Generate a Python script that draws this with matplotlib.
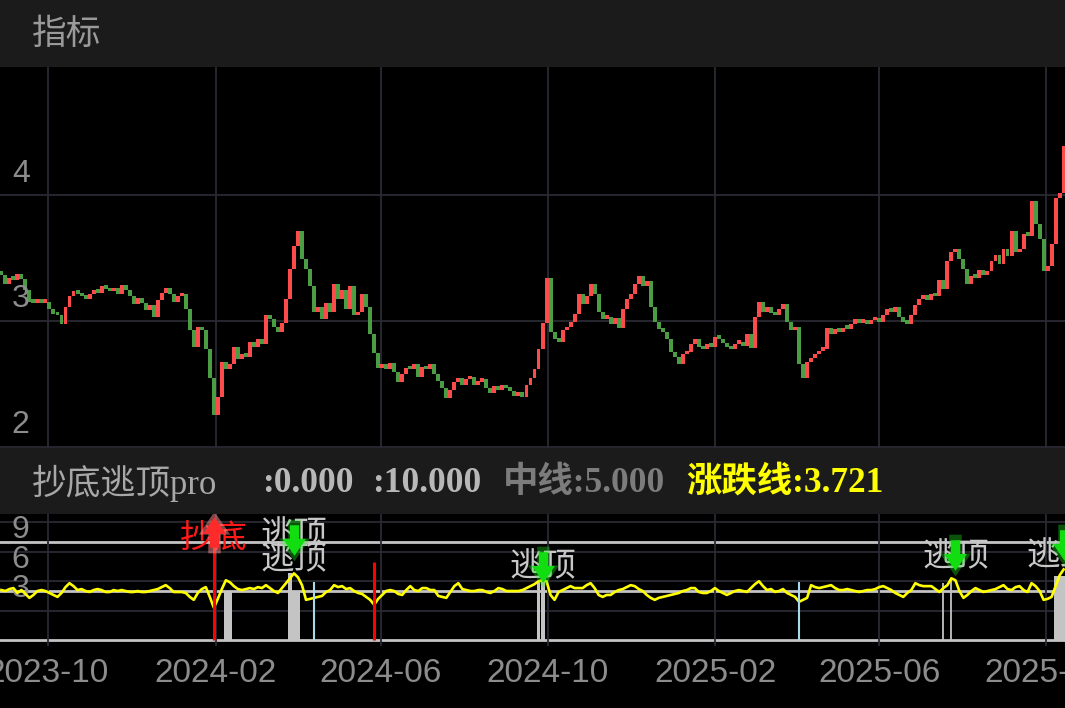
import numpy as np
import pandas as pd
import matplotlib
matplotlib.use('Agg')
import matplotlib.pyplot as plt
import matplotlib.dates as mdates
from matplotlib.patches import Rectangle
from matplotlib.path import Path

close = [
    3.37, 3.30, 3.35, 3.33, 3.38, 3.34, 3.25, 3.16, 3.15, 3.17,
    3.15, 3.16, 3.10, 3.06, 3.05, 2.98, 3.12, 3.20, 3.24, 3.22,
    3.20, 3.18, 3.22, 3.25, 3.23, 3.28, 3.26, 3.24, 3.27, 3.22,
    3.29, 3.25, 3.20, 3.14, 3.19, 3.15, 3.09, 3.13, 3.04, 3.17,
    3.23, 3.27, 3.22, 3.16, 3.20, 3.22, 3.10, 2.93, 2.80, 2.96,
    2.93, 2.78, 2.55, 2.26, 2.40, 2.68, 2.62, 2.66, 2.80, 2.70,
    2.74, 2.72, 2.84, 2.80, 2.86, 2.82, 3.05, 3.02, 2.96, 2.92,
    2.99, 3.18, 3.42, 3.60, 3.72, 3.50, 3.42, 3.28, 3.08, 3.12,
    3.02, 3.15, 3.08, 3.30, 3.18, 3.25, 3.10, 3.28, 3.05, 3.08,
    3.22, 3.12, 2.90, 2.75, 2.63, 2.66, 2.62, 2.67, 2.60, 2.52,
    2.58, 2.63, 2.62, 2.66, 2.56, 2.64, 2.62, 2.66, 2.58, 2.53,
    2.47, 2.39, 2.46, 2.52, 2.55, 2.50, 2.54, 2.56, 2.50, 2.52,
    2.54, 2.47, 2.43, 2.49, 2.46, 2.50, 2.47, 2.45, 2.41, 2.44,
    2.40, 2.50, 2.55, 2.62, 2.78, 2.99, 3.35, 2.92, 2.86, 2.84,
    2.93, 2.96, 3.00, 3.06, 3.22, 3.14, 3.20, 3.30, 3.22, 3.08,
    3.02, 3.04, 2.98, 3.03, 2.95, 3.10, 3.18, 3.22, 3.30, 3.36,
    3.28, 3.32, 3.12, 3.00, 2.94, 2.92, 2.86, 2.76, 2.72, 2.66,
    2.74, 2.76, 2.82, 2.86, 2.80, 2.78, 2.82, 2.80, 2.88, 2.86,
    2.83, 2.80, 2.78, 2.82, 2.84, 2.81, 2.90, 2.79, 3.04, 3.16,
    3.08, 3.12, 3.07, 3.05, 3.10, 3.14, 3.00, 2.93, 2.96, 2.66,
    2.55, 2.68, 2.71, 2.74, 2.77, 2.78, 2.95, 2.90, 2.94, 2.92,
    2.95, 2.94, 2.98, 3.02, 2.99, 3.00, 2.98, 3.01, 3.03, 3.00,
    3.05, 3.10, 3.08, 3.12, 3.04, 3.00, 2.98, 3.05, 3.13, 3.18,
    3.21, 3.17, 3.22, 3.20, 3.33, 3.26, 3.48, 3.55, 3.58, 3.50,
    3.42, 3.30, 3.36, 3.35, 3.41, 3.37, 3.40, 3.48, 3.53, 3.46,
    3.58, 3.52, 3.72, 3.55, 3.58, 3.70, 3.68, 3.96, 3.78, 3.66,
    3.40, 3.44, 3.62, 3.98, 4.02, 4.40,
]
first_open = 3.40

# yellow 涨跌线 in the lower pane
zdx = [
    5.1, 5.0, 5.2, 5.3, 4.8, 5.1, 4.7, 4.3, 4.6, 5.0,
    5.1, 5.0, 4.8, 4.6, 4.4, 4.8, 5.4, 5.8, 5.5, 5.1,
    5.2, 5.0, 4.9, 5.1, 5.2, 5.1, 4.9, 4.9, 5.1, 5.0,
    5.1, 5.0, 4.9, 4.9, 5.0, 4.9, 4.9, 5.0, 5.1, 5.2,
    5.4, 5.6, 5.3, 4.9, 4.9, 4.9, 4.8, 4.4, 4.1, 4.8,
    5.2, 5.4, 4.4, 3.3, 4.2, 5.2, 6.1, 5.9, 5.5, 5.2,
    5.1, 5.2, 5.3, 5.2, 5.4, 5.3, 5.6, 5.3, 5.0, 4.8,
    5.3, 5.8, 6.3, 6.8, 6.4, 5.6, 4.1, 4.2, 4.3, 4.4,
    4.5, 4.9, 5.1, 5.6, 5.4, 5.5, 5.2, 5.3, 5.0, 4.8,
    4.7, 4.4, 4.1, 3.6, 4.2, 4.6, 5.0, 5.1, 5.0, 4.7,
    4.6, 5.1, 5.5, 5.1, 5.0, 5.3, 5.3, 5.1, 5.1, 4.5,
    4.4, 4.3, 4.9, 5.5, 5.8, 5.2, 5.1, 5.0, 5.0, 5.1,
    5.1, 4.9, 4.8, 5.0, 5.3, 5.2, 5.0, 5.0, 5.0, 5.0,
    5.1, 5.3, 5.5, 5.7, 6.0, 6.1, 6.0, 4.6, 4.1, 4.9,
    5.1, 5.3, 5.5, 5.3, 5.3, 5.3, 5.6, 5.8, 5.3, 4.6,
    4.4, 4.6, 4.6, 4.9, 5.1, 5.2, 5.4, 5.6, 5.5, 5.2,
    5.0, 4.6, 4.3, 4.1, 4.3, 4.4, 4.5, 4.6, 4.7, 4.8,
    5.0, 5.1, 5.3, 5.3, 4.9, 4.8, 4.8, 5.0, 5.3, 5.0,
    4.8, 4.6, 4.8, 5.0, 5.1, 5.0, 4.9, 5.3, 5.7, 6.0,
    5.5, 5.1, 5.2, 4.9, 5.0, 5.2, 4.8, 4.6, 4.4, 3.9,
    4.1, 4.3, 5.6, 5.4, 5.3, 5.4, 5.5, 5.6, 5.3, 5.1,
    5.1, 5.2, 5.1, 5.0, 4.9, 5.0, 5.1, 5.1, 5.2, 5.4,
    5.5, 5.3, 5.1, 4.8, 4.6, 4.4, 4.8, 5.1, 5.8, 5.6,
    5.5, 5.5, 5.5, 5.2, 4.9, 5.3, 5.6, 6.3, 6.1, 5.0,
    4.3, 4.6, 5.0, 5.3, 5.1, 4.9, 5.0, 5.1, 5.2, 5.4,
    5.6, 5.2, 5.1, 5.4, 5.5, 5.1, 4.9, 5.8, 5.5, 5.0,
    4.1, 4.2, 4.4, 5.5, 6.6, 7.2,
]

# signals in the lower pane: candle index and level
gray_idx = [56, 57, 72, 73, 74, 134, 135, 263, 264, 265]
gray_val = [4.9, 4.9, 6.8, 4.9, 4.9, 5.9, 5.9, 6.5, 6.5, 6.5]
thin_idx = [235, 237]
thin_val = [5.8, 6.1]
blue_idx = [78, 199]
blue_val = [5.9, 5.9]
red_idx = [53, 93]
red_val = [11.4, 8.0]
buy_idx = [53]
buy_arrow = [11.0]
buy_text = [10.4]
sell_idx = [73, 73, 135, 238, 264]
sell_text = [10.7, 8.2, 7.45, 8.5, 8.6]
sell_arrow_idx = [73, 135, 238, 265]
sell_arrow = [10.2, 7.45, 8.7, 9.7]

dates = pd.date_range('2023-08-28', '2025-10-14', periods=len(close))
c = np.array(close)
o = np.array([first_open] + close[:-1])

CJK = 'Noto Sans CJK SC'
MIX = ['Liberation Serif', 'Noto Sans CJK SC']
GRID = '#2a2a32'
LBL = '#8c8c8c'

fig = plt.figure(figsize=(10.65, 7.08), dpi=100, facecolor='black')
H = 708.0

# header bands
fig.add_artist(Rectangle((0, 1 - 67 / H), 1, 67 / H, transform=fig.transFigure,
                         color='#1b1b1b', zorder=0))
fig.add_artist(Rectangle((0, 1 - 514 / H), 1, 66 / H, transform=fig.transFigure,
                         color='#1b1b1b', zorder=0))
fig.text(32 / 1065, 1 - 34 / H, '指标', color='#9a9a9a', fontsize=25,
         family=CJK, va='center')

# price pane
ax = fig.add_axes([0, 1 - 448 / H, 1, 381 / H], facecolor='black')
up = c >= o
cols = np.where(up, '#fd4a4a', '#4b9d44')
ax.bar(dates, np.maximum(np.abs(c - o), 0.03), bottom=np.minimum(o, c) - 0.005,
       width=2.9, color=cols, linewidth=0, zorder=3)
ax.set_ylim(1.99, 5.02)
ax.set_xlim(pd.Timestamp('2023-08-27'), pd.Timestamp('2025-10-15'))
ax.set_yticks([2, 3, 4])
ax.xaxis.set_major_locator(mdates.MonthLocator(bymonth=[2, 6, 10]))
ax.grid(True, color=GRID, lw=1.3, zorder=0)
ax.tick_params(length=0, labelbottom=False, labelleft=False)
for s in ax.spines.values():
    s.set_visible(False)
for v in [4, 3, 2]:
    ax.annotate(str(v), xy=(0, v), xycoords=('axes fraction', 'data'),
                xytext=(8.5, 15.5), textcoords='offset points', va='center',
                ha='left', color=LBL, fontsize=23, family='Liberation Sans')

# indicator header
yh = 1 - 483 / H
fig.text(32 / 1065, yh, '抄底逃顶pro', color='#a8a8a8', fontsize=25,
         family=MIX, va='center')
fig.text(262 / 1065, yh, ':0.000', color='#b8b8b8', fontsize=25.5,
         family=MIX, weight='bold', va='center')
fig.text(372 / 1065, yh, ':10.000', color='#b8b8b8', fontsize=25.5,
         family=MIX, weight='bold', va='center')
fig.text(503 / 1065, yh, '中线:5.000', color='#7c7c7c', fontsize=25.5,
         family=MIX, weight='bold', va='center')
fig.text(686 / 1065, yh, '涨跌线:3.721', color='#ffff00', fontsize=25.5,
         family=MIX, weight='bold', va='center')

# indicator pane
ax2 = fig.add_axes([0, 1 - 646 / H, 1, 132 / H], facecolor='black', sharex=ax)
ax2.set_ylim(-0.61, 12.86)
ax2.set_yticks([3, 6, 9, 12])
ax2.grid(True, color=GRID, lw=1.3, zorder=0)
ax2.tick_params(length=0, labelleft=False, labelsize=24, labelcolor=LBL, pad=9)
for lab in ax2.get_xticklabels():
    lab.set_family('Liberation Sans')
ax2.xaxis.set_major_formatter(mdates.DateFormatter('%Y-%m'))
for s in ax2.spines.values():
    s.set_visible(False)
for v in [9, 6, 3]:
    ax2.annotate(str(v), xy=(0, v), xycoords=('axes fraction', 'data'),
                 xytext=(8.5, 15.5), textcoords='offset points', va='center',
                 ha='left', color=LBL, fontsize=23, family='Liberation Sans')

for lvl in [0, 5, 10]:
    ax2.axhline(lvl, color='#c4c4c4', lw=2.0, zorder=1)

gd = dates[gray_idx]
ax2.bar(gd, gray_val, width=2.9, color='#c4c4c4', linewidth=0, zorder=2)
ax2.vlines(dates[thin_idx], 0, thin_val, color='#c4c4c4', lw=1.3, zorder=2)
ax2.plot(dates, zdx, color='#ffff00', lw=1.9, zorder=3)
ax2.vlines(dates[blue_idx], 0, blue_val, color='#a8d8ea', lw=1.5, zorder=4)
ax2.vlines(dates[red_idx], 0, red_val, color='#ff0000', lw=2.2, zorder=4)

arrow_dn = Path([(-0.3, 1), (0.3, 1), (0.3, 0.1), (0.75, 0.1), (0, -1),
                 (-0.75, 0.1), (-0.3, 0.1), (-0.3, 1)], closed=True)
arrow_up = Path([(-0.3, -1), (0.3, -1), (0.3, -0.1), (0.75, -0.1), (0, 1),
                 (-0.75, -0.1), (-0.3, -0.1), (-0.3, -1)], closed=True)

for i, v in zip(sell_idx, sell_text):
    ax2.text(dates[i], v, '逃顶', ha='center', va='center', color='#c8c8c8',
             fontsize=24, family=CJK, zorder=5)
for i, v in zip(buy_idx, buy_text):
    ax2.text(dates[i], v, '抄底', ha='center', va='center', color='#ff1a1a',
             fontsize=24, family=CJK, zorder=5)

sx = dates[sell_arrow_idx]
ax2.plot(sx, sell_arrow, ls='none', marker=arrow_dn, ms=30, color='#22ee22',
         alpha=0.35, mew=0, zorder=6)
ax2.plot(sx, sell_arrow, ls='none', marker=arrow_dn, ms=22, color='#11dd11',
         mew=0, zorder=7)
bx = dates[buy_idx]
ax2.plot(bx, buy_arrow, ls='none', marker=arrow_up, ms=30, color='#ff9090',
         alpha=0.5, mew=0, zorder=6)
ax2.plot(bx, buy_arrow, ls='none', marker=arrow_up, ms=22, color='#ff2a2a',
         mew=0, zorder=7)

fig.savefig('out.png', dpi=100, facecolor='black')
